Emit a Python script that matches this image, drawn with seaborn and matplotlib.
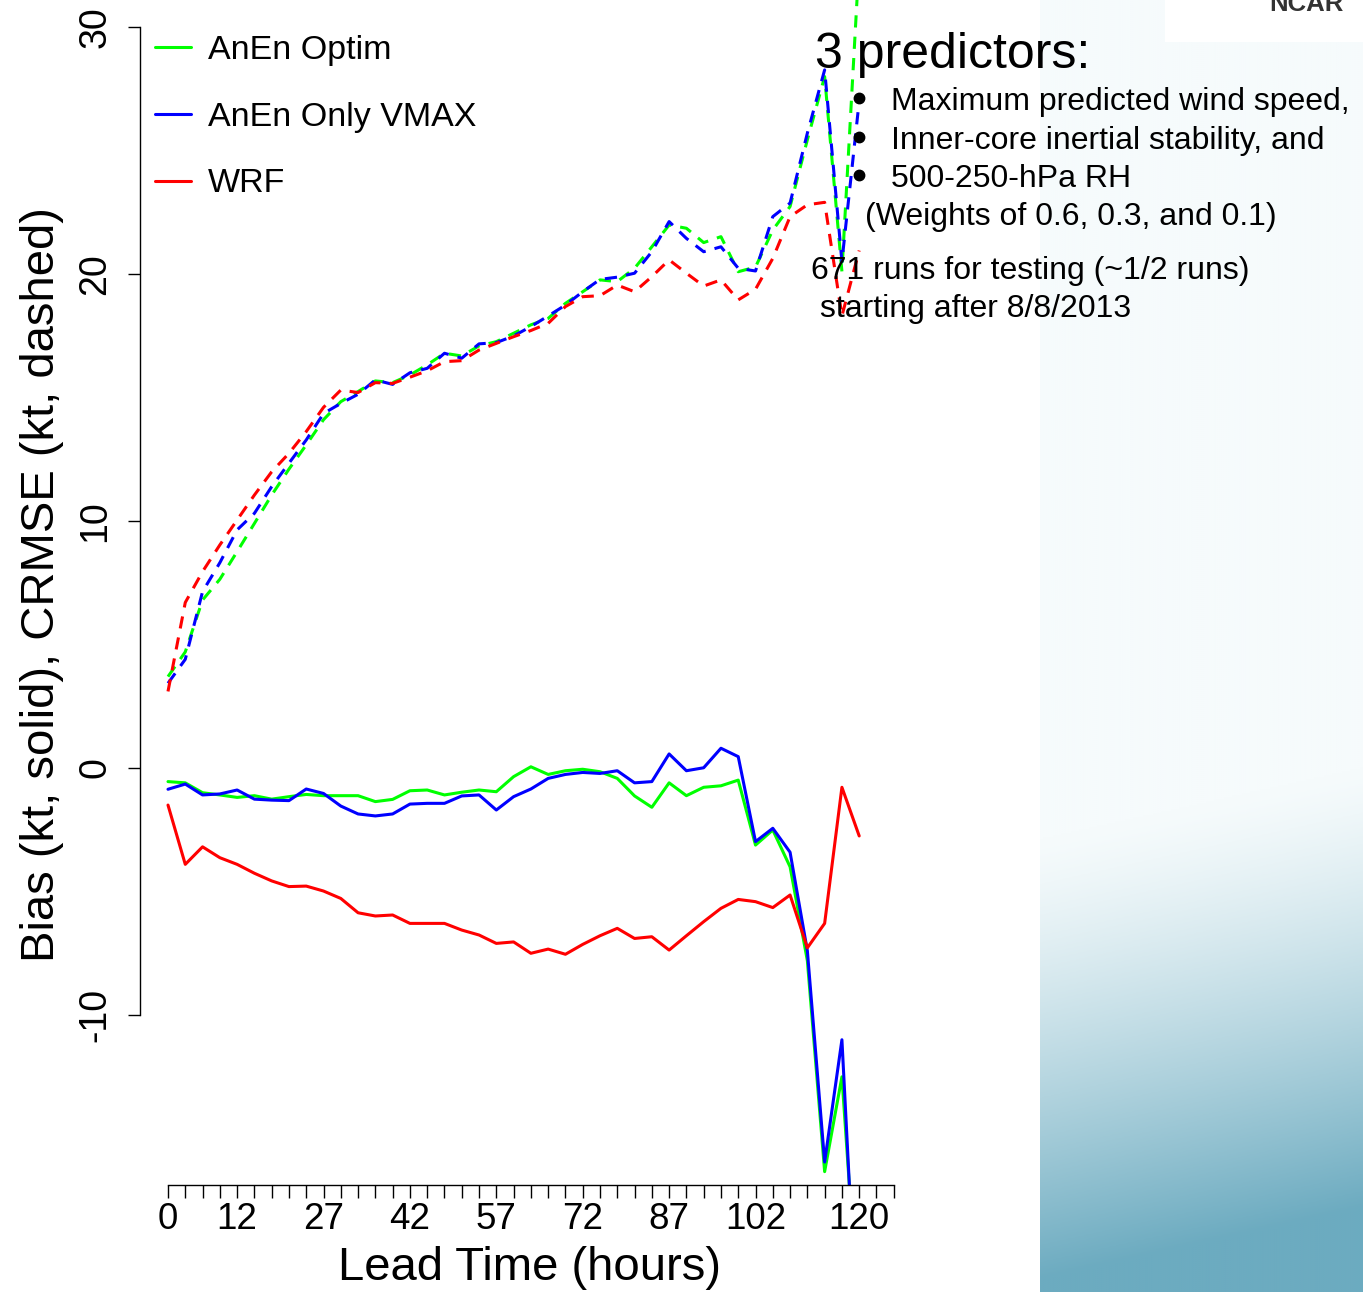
import numpy as np
import pandas as pd
import matplotlib
matplotlib.use("Agg")
import matplotlib.pyplot as plt
import seaborn as sns
from matplotlib.lines import Line2D
from matplotlib.patches import Rectangle

# ---------------- data ----------------
lead_hours = list(range(0, 121, 3))
models = ["AnEn Optim", "AnEn Only VMAX", "WRF"]
model_colors = ["#00ff00", "#0000ff", "#ff0000"]

bias_optim = [-0.55, -0.60, -1.00, -1.09, -1.19, -1.12, -1.26, -1.16, -1.07, -1.12,
              -1.12, -1.12, -1.36, -1.27, -0.92, -0.89, -1.09, -0.98, -0.89, -0.96,
              -0.35, 0.05, -0.26, -0.11, -0.05, -0.15, -0.42, -1.13, -1.59, -0.60,
              -1.12, -0.78, -0.72, -0.49, -3.12, -2.51, -4.00, -7.80, -16.34, -12.50,
              -22.70]
bias_vmax = [-0.86, -0.65, -1.09, -1.05, -0.89, -1.26, -1.30, -1.32, -0.85, -1.03,
             -1.54, -1.86, -1.94, -1.86, -1.46, -1.43, -1.43, -1.13, -1.09, -1.70,
             -1.16, -0.85, -0.42, -0.26, -0.18, -0.22, -0.11, -0.60, -0.55, 0.57,
             -0.11, 0.01, 0.80, 0.46, -2.98, -2.44, -3.41, -7.40, -15.95, -11.00,
             -24.60]
bias_wrf = [-1.50, -3.90, -3.19, -3.63, -3.90, -4.26, -4.57, -4.80, -4.78, -4.98,
            -5.28, -5.86, -5.99, -5.95, -6.29, -6.29, -6.29, -6.56, -6.76, -7.10,
            -7.04, -7.50, -7.33, -7.54, -7.14, -6.79, -6.49, -6.90, -6.83, -7.37,
            -6.79, -6.22, -5.68, -5.32, -5.41, -5.65, -5.14, -7.28, -6.29, -0.78,
            -2.75]

crmse_optim = [3.70, 4.70, 6.80, 7.64, 8.76, 9.90, 11.05, 12.10, 13.08, 14.10,
               14.83, 15.24, 15.67, 15.60, 15.91, 16.32, 16.79, 16.68, 17.09, 17.26,
               17.60, 17.94, 18.20, 18.81, 19.28, 19.76, 19.69, 20.23, 21.10, 21.98,
               21.85, 21.27, 21.51, 20.09, 20.28, 21.78, 22.73, 25.43, 27.99, 20.10,
               32.70]
crmse_vmax = [3.43, 4.40, 7.14, 8.31, 9.64, 10.31, 11.39, 12.34, 13.28, 14.35,
              14.76, 15.13, 15.71, 15.53, 16.00, 16.18, 16.79, 16.59, 17.17, 17.22,
              17.49, 17.87, 18.30, 18.74, 19.28, 19.78, 19.87, 20.03, 20.90, 22.12,
              21.44, 20.90, 21.10, 20.23, 20.12, 22.32, 22.87, 25.70, 28.26, 20.50,
              27.00]
crmse_wrf = [3.10, 6.70, 7.95, 9.03, 10.04, 11.05, 11.99, 12.74, 13.62, 14.60,
             15.30, 15.20, 15.60, 15.57, 15.82, 16.08, 16.45, 16.49, 16.92, 17.19,
             17.46, 17.71, 18.00, 18.68, 19.08, 19.12, 19.55, 19.28, 19.89, 20.57,
             20.03, 19.51, 19.76, 18.95, 19.38, 20.63, 22.32, 22.80, 22.90, 18.30,
             20.95]

x_tick_positions = list(range(0, 127, 3))
x_tick_labels = ["0", "12", "27", "42", "57", "72", "87", "102", "120"]
y_ticks = [-10, 0, 10, 20, 30]

# ---------------- long table ----------------
series = {
    ("AnEn Optim", "Bias"): bias_optim,
    ("AnEn Only VMAX", "Bias"): bias_vmax,
    ("WRF", "Bias"): bias_wrf,
    ("AnEn Optim", "CRMSE"): crmse_optim,
    ("AnEn Only VMAX", "CRMSE"): crmse_vmax,
    ("WRF", "CRMSE"): crmse_wrf,
}
rows = []
for (m, metric), vals in series.items():
    for h, v in zip(lead_hours, vals):
        rows.append({"lead": h, "value": v, "model": m, "metric": metric})
df = pd.DataFrame(rows)

# ---------------- figure ----------------
sns.set_theme(style="white")
plt.rcParams["font.family"] = ["Liberation Sans", "DejaVu Sans"]
plt.rcParams["text.color"] = "black"
plt.rcParams["axes.labelcolor"] = "black"
plt.rcParams["xtick.color"] = "black"
plt.rcParams["ytick.color"] = "black"

W, H = 1363, 1292
fig = plt.figure(figsize=(W / 100, H / 100), dpi=100)
fig.patch.set_facecolor("white")

def fx(px):
    return px / W

def fy(py):
    return 1 - py / H

# slide background (decoration)
bg = fig.add_axes([fx(1040), 0, (W - 1040) / W, 1], zorder=0)
ny, nx = 646, 162
yy, xx = np.mgrid[0:H:ny * 1j, 1040:W:nx * 1j]
s = yy + 0.22 * (xx - 1040)
t = np.clip((s - 840) / 440, 0, 1) ** 1.3
pale = np.array([246, 251, 252]) / 255
teal = np.array([108, 171, 192]) / 255
img = pale[None, None, :] * (1 - t[..., None]) + teal[None, None, :] * t[..., None]
bg.imshow(img, aspect="auto", extent=[0, 1, 0, 1], origin="upper")
bg.axis("off")

fig.patches.append(Rectangle((fx(1165), fy(42)), (W - 1165) / W, 42 / H,
                             transform=fig.transFigure, facecolor="white",
                             edgecolor="none", zorder=1))
fig.text(fx(1306), fy(11), "NCAR", ha="center", va="baseline", fontsize=18.5,
         fontweight="bold", color="#333333", zorder=2)

# main axes
ax = fig.add_axes([fx(140), fy(1185), (902.4 - 140) / W, 1185 / H], zorder=3)
ax.patch.set_alpha(0)

sns.lineplot(data=df, x="lead", y="value", hue="model", style="metric",
             hue_order=models, style_order=["Bias", "CRMSE"],
             palette=dict(zip(models, model_colors)),
             dashes={"Bias": "", "CRMSE": (4, 3)},
             linewidth=2.2, estimator=None, errorbar=None, legend=False, ax=ax)

ax.set_xlim(-4.86, 127.5)
ax.set_ylim(-16.88, 31.09)

ax.set_xticks(x_tick_positions)
ax.set_xticklabels([str(p) if str(p) in x_tick_labels else "" for p in x_tick_positions])
ax.set_yticks(y_ticks)
ax.set_yticklabels([str(v) for v in y_ticks])

for sp in ["top", "right"]:
    ax.spines[sp].set_visible(False)
ax.spines["left"].set_bounds(-10, 30)
ax.spines["bottom"].set_bounds(0, 126)
for sp in ["left", "bottom"]:
    ax.spines[sp].set_color("black")
    ax.spines[sp].set_linewidth(1.0)

ax.tick_params(axis="x", direction="out", length=9, width=1, color="black",
               labelcolor="black", labelsize=26.5, pad=3, bottom=True)
ax.tick_params(axis="y", direction="out", length=9, width=1, color="black",
               labelcolor="black", labelsize=27, pad=10, left=True, labelrotation=90)
for lab in ax.get_yticklabels():
    lab.set_va("center")

ax.set_xlabel("Lead Time (hours)", fontsize=34, color="black")
ax.xaxis.label.set_va("center")
ax.xaxis.set_label_coords((530 - 140) / 762.4, (1185 - 1268) / 1185)
ax.set_ylabel("Bias (kt, solid), CRMSE (kt, dashed)", fontsize=34, color="black")
ax.yaxis.label.set_va("center")
ax.yaxis.set_label_coords((42 - 140) / 762.4, (1185 - 585) / 1185)

handles = [Line2D([], [], color=c, lw=2.2) for c in model_colors]
leg = ax.legend(handles, models, loc="upper left", bbox_to_anchor=(fx(155), fy(35)),
                bbox_transform=fig.transFigure, frameon=False, fontsize=24.5,
                handlelength=1.05, handletextpad=0.5, labelspacing=1.05,
                borderpad=0, borderaxespad=0)
for txt in leg.get_texts():
    txt.set_color("black")

# slide annotations
fig.text(fx(815), fy(68), "3 predictors:", fontsize=36, ha="left", va="baseline",
         color="black", zorder=4)
bullets = ["Maximum predicted wind speed,", "Inner-core inertial stability, and",
           "500-250-hPa RH"]
for i, b in enumerate(bullets):
    base = 110 + i * 38.5
    fig.add_artist(Line2D([fx(859)], [fy(base - 12)], marker="o", markersize=7.5,
                          color="black", transform=fig.transFigure, zorder=4))
    fig.text(fx(891), fy(base), b, fontsize=23, ha="left", va="baseline",
             color="black", zorder=4)
fig.text(fx(865), fy(225), "(Weights of 0.6, 0.3, and 0.1)", fontsize=23,
         ha="left", va="baseline", color="black", zorder=4)
fig.text(fx(811), fy(279), "671 runs for testing (~1/2 runs)", fontsize=23,
         ha="left", va="baseline", color="black", zorder=4)
fig.text(fx(820), fy(317), "starting after 8/8/2013", fontsize=23,
         ha="left", va="baseline", color="black", zorder=4)

fig.savefig("out.png", dpi=100, facecolor="white")
